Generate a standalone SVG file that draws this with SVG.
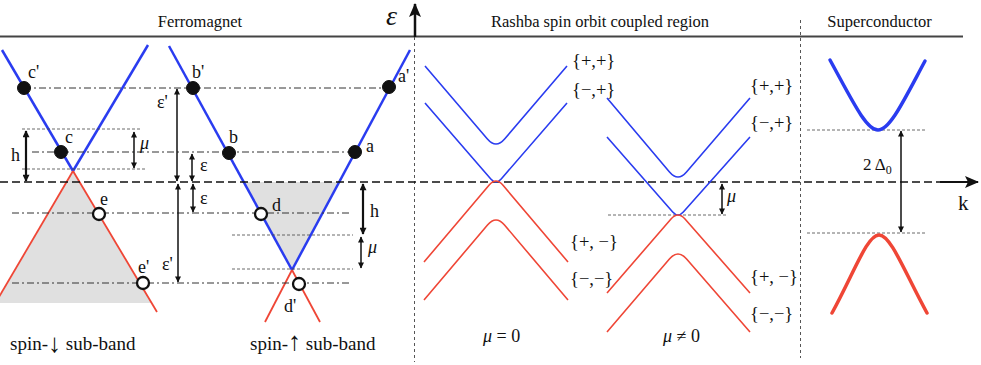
<svg xmlns="http://www.w3.org/2000/svg" width="981" height="365" viewBox="0 0 981 365">
<style>
text{font-family:"Liberation Serif","Times New Roman",serif;fill:#111}
.title{font-size:16.5px;text-anchor:middle}
.lbl{font-size:18px}
.it{font-style:italic}
.set{font-size:18.5px}
.spin{font-size:19px}
.blueF{stroke:#2a3cf0;stroke-width:2.5;fill:none}
.redF{stroke:#ef4636;stroke-width:1.8;fill:none}
.blueR{stroke:#2a3cf0;stroke-width:1.6;fill:none}
.redR{stroke:#ef4636;stroke-width:1.6;fill:none}
.blueS{stroke:#2a3cf0;stroke-width:3.5;fill:none;stroke-linecap:round}
.redS{stroke:#ef4636;stroke-width:3.5;fill:none;stroke-linecap:round}
.dd{stroke:#333;stroke-width:1;stroke-dasharray:7 3 2 3;fill:none}
.dot{stroke:#444;stroke-width:0.8;stroke-dasharray:3 2;fill:none}
.sep{stroke:#555;stroke-width:1;stroke-dasharray:3 3;fill:none}
.arr{stroke:#111;stroke-width:1.5;fill:none;marker-start:url(#ah);marker-end:url(#ah)}
.arrh{stroke:#111;stroke-width:2.2;fill:none;marker-start:url(#ah2);marker-end:url(#ah2)}
.full{fill:#111;stroke:#111;stroke-width:1}
.open{fill:#fff;stroke:#111;stroke-width:2.3}
.shade{fill:#e0e0e0}
</style>
<defs>
<marker id="ah" viewBox="0 0 10 10" refX="9" refY="5" markerWidth="7" markerHeight="6" markerUnits="userSpaceOnUse" orient="auto-start-reverse"><path d="M0,0 L10,5 L0,10 z" fill="#111"/></marker>
<marker id="ah2" viewBox="0 0 10 10" refX="9" refY="5" markerWidth="8" markerHeight="7" markerUnits="userSpaceOnUse" orient="auto-start-reverse"><path d="M0,0 L10,5 L0,10 z" fill="#111"/></marker>
<marker id="axh" viewBox="0 0 14 12" refX="13" refY="6" markerWidth="14" markerHeight="12" markerUnits="userSpaceOnUse" orient="auto"><path d="M0,0 L14,6 L0,12 L3,6 z" fill="#111"/></marker>
</defs>

<g id="frame">
<line x1="0" y1="36.5" x2="963" y2="36.5" stroke="#444" stroke-width="1.8"/>
<line class="sep" x1="414.5" y1="37" x2="414.5" y2="362"/>
<line class="sep" x1="800.5" y1="20" x2="800.5" y2="358"/>
<text class="title" x="200" y="27">Ferromagnet</text>
<text class="title" x="600" y="27">Rashba spin orbit coupled region</text>
<text class="title" x="879.5" y="27">Superconductor</text>
</g>

<g id="ferromagnet-down">
<polygon class="shade" points="73,171 -5,303 152,303"/>
<line class="blueF" x1="2" y1="50" x2="73" y2="171"/>
<line class="blueF" x1="73" y1="171" x2="148" y2="45"/>
<line class="redF" x1="73" y1="171" x2="-1" y2="297"/>
<line class="redF" x1="73" y1="171" x2="157" y2="312"/>
</g>
<g id="ferromagnet-up">
<polygon class="shade" points="244,182 339,182 292,270"/>
<line class="blueF" x1="169" y1="46" x2="292" y2="270"/>
<line class="blueF" x1="292" y1="270" x2="410" y2="50"/>
<line class="redF" x1="292" y1="270" x2="265" y2="322"/>
<line class="redF" x1="292" y1="270" x2="320" y2="322"/>
</g>

<g id="levels">
<line class="dd" x1="24" y1="88" x2="390" y2="88"/>
<line class="dd" x1="32" y1="152" x2="355" y2="152"/>
<line class="dd" x1="12" y1="213" x2="352" y2="213"/>
<line class="dd" x1="12" y1="283" x2="352" y2="283"/>
<line class="dot" x1="22" y1="129" x2="142" y2="129"/>
<line class="dot" x1="22" y1="169" x2="147" y2="169"/>
<line class="dot" x1="232" y1="235" x2="353" y2="235"/>
<line class="dot" x1="232" y1="269" x2="353" y2="269"/>
<line class="dot" x1="608" y1="215" x2="728" y2="215"/>
<line class="dot" x1="807" y1="130" x2="927" y2="130"/>
<line class="dot" x1="807" y1="233" x2="927" y2="233"/>
</g>

<g id="axes">
<line x1="0" y1="182" x2="940" y2="182" stroke="#111" stroke-width="1.6" stroke-dasharray="8 4"/>
<line x1="940" y1="182" x2="978" y2="182" stroke="#111" stroke-width="2" marker-end="url(#axh)"/>
<line x1="415" y1="37" x2="415" y2="4" stroke="#111" stroke-width="2.5" marker-end="url(#axh)"/>
<text class="it" x="386" y="25" font-size="28">ε</text>
<text x="958" y="210" font-size="21">k</text>
</g>

<g id="points">
<circle class="full" cx="24" cy="88" r="6.5"/>
<circle class="full" cx="61" cy="152" r="6.5"/>
<circle class="full" cx="193" cy="88" r="6.5"/>
<circle class="full" cx="229" cy="153" r="6.5"/>
<circle class="full" cx="355" cy="152" r="6.5"/>
<circle class="full" cx="389" cy="87" r="6.5"/>
<circle class="open" cx="99" cy="214" r="6"/>
<circle class="open" cx="143" cy="283" r="6"/>
<circle class="open" cx="261" cy="214" r="6"/>
<circle class="open" cx="299" cy="284" r="6"/>
<text class="lbl" x="28" y="78">c'</text>
<text class="lbl" x="65" y="143">c</text>
<text class="lbl" x="192" y="78">b'</text>
<text class="lbl" x="229" y="143">b</text>
<text class="lbl" x="366" y="152">a</text>
<text class="lbl" x="398" y="82">a'</text>
<text class="lbl" x="100" y="205">e</text>
<text class="lbl" x="138" y="273">e'</text>
<text class="lbl" x="272" y="211">d</text>
<text class="lbl" x="284" y="312">d'</text>
</g>

<g id="connectors">
<line class="arrh" x1="26" y1="131" x2="26" y2="181"/>
<line class="arr" x1="134" y1="132" x2="134" y2="168"/>
<line class="arr" x1="177" y1="89" x2="177" y2="181"/>
<line class="arr" x1="192" y1="154" x2="192" y2="181"/>
<line class="arr" x1="193" y1="184" x2="193" y2="212"/>
<line class="arr" x1="178" y1="184" x2="178" y2="282"/>
<line class="arrh" x1="363" y1="184" x2="363" y2="234"/>
<line class="arr" x1="361" y1="237" x2="361" y2="268"/>
<line class="arr" x1="722" y1="184" x2="722" y2="214"/>
<line class="arr" x1="901" y1="131" x2="901" y2="232" stroke-width="1.2"/>
</g>

<g id="arrow-labels">
<text class="lbl" x="11" y="161">h</text>
<text class="lbl it" x="140" y="149">μ</text>
<text class="lbl" x="157" y="108">ε'</text>
<text class="lbl" x="200" y="171">ε</text>
<text class="lbl" x="200" y="204">ε</text>
<text class="lbl" x="162" y="270">ε'</text>
<text class="lbl" x="370" y="217">h</text>
<text class="lbl it" x="368" y="253">μ</text>
<text class="lbl it" x="727" y="202">μ</text>
<text x="863" y="170" font-size="17">2 Δ<tspan font-size="12" dy="4">0</tspan></text>
</g>

<g id="spin-labels">
<text class="spin" x="10" y="350">spin-<tspan font-size="26" dy="2">↓</tspan><tspan dy="-2"> sub-band</tspan></text>
<text class="spin" x="250" y="350">spin-<tspan font-size="26">↑</tspan> sub-band</text>
</g>

<g id="rashba-mu0">
<path class="blueR" d="M425,66 L487.4,139 Q496,149 504.6,139 L567,66"/>
<path class="blueR" d="M425,103 L490.8,179 Q496,185 501.2,179 L567,103"/>
<path class="redR" d="M424,262 L489.2,185 Q496,177 502.8,185 L568,262"/>
<path class="redR" d="M424,300 L487.5,225 Q496,215 504.5,225 L568,300"/>
<text class="set" x="572" y="67">{+,+}</text>
<text class="set" x="572" y="96">{−,+}</text>
<text class="set" x="570" y="248">{+, −}</text>
<text class="set" x="570" y="285">{−,−}</text>
<text class="lbl" x="483" y="342"><tspan class="it">μ</tspan> = 0</text>
</g>

<g id="rashba-mu">
<path class="blueR" d="M607,98 L669.5,172 Q678,182 686.5,172 L750,98"/>
<path class="blueR" d="M607,137 L672.7,212 Q678,218 683.3,212 L750,137"/>
<path class="redR" d="M607,293 L671,219 Q678,211 685,219 L750,293"/>
<path class="redR" d="M607,332 L669.4,259 Q678,249 686.6,259 L750,332"/>
<text class="set" x="750" y="92">{+,+}</text>
<text class="set" x="750" y="129">{−,+}</text>
<text class="set" x="750" y="283">{+, −}</text>
<text class="set" x="750" y="320">{−,−}</text>
<text class="lbl" x="663" y="342"><tspan class="it">μ</tspan> ≠ 0</text>
</g>

<g id="superconductor">
<path class="blueS" d="M830,60 C852,100 866,130 878,130 C890,130 904,100 925,61"/>
<path class="redS" d="M832,313 C854,273 867,235 879,235 C891,235 905,273 927,313"/>
</g>
</svg>
